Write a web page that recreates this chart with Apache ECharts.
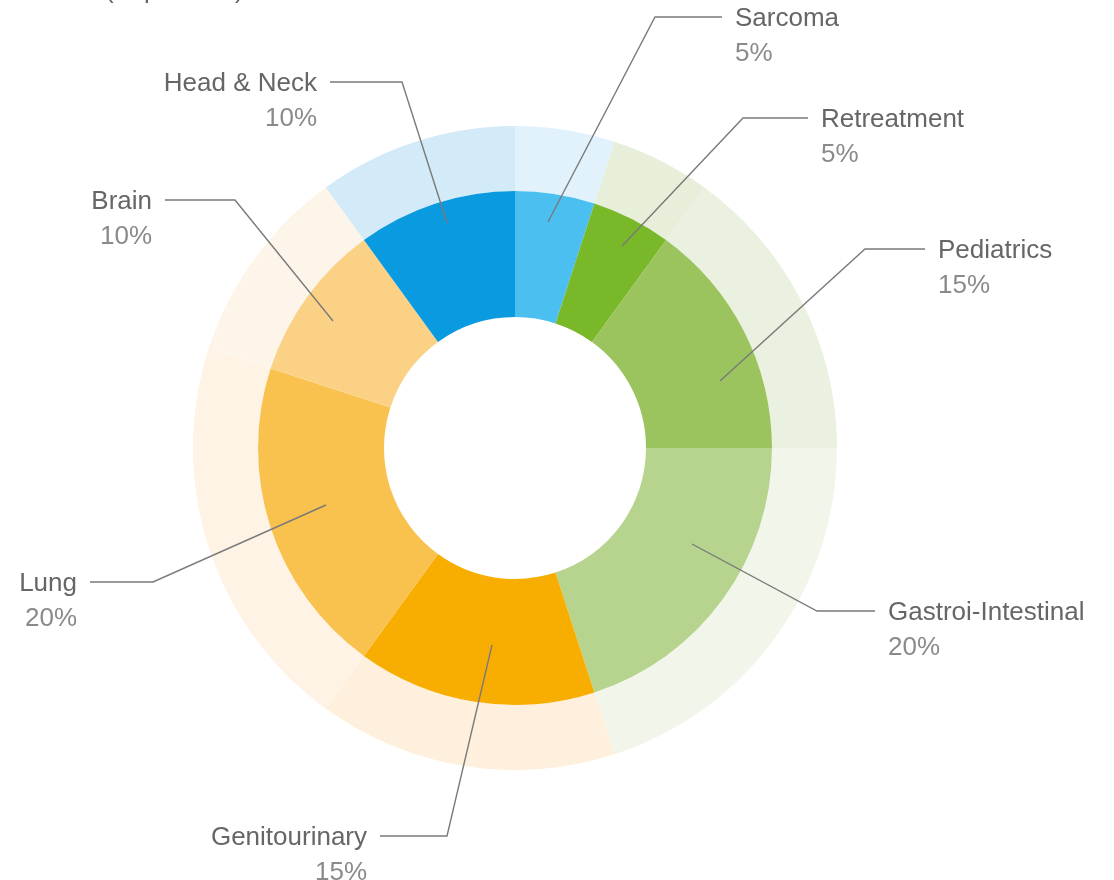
<!DOCTYPE html>
<html><head><meta charset="utf-8">
<script src="https://cdn.jsdelivr.net/npm/echarts@6/dist/echarts.min.js"></script>
<style>html,body{margin:0;padding:0;background:#fff}#c{width:1114px;height:880px}</style>
</head><body><div id="c"></div>
<script>
// ---- data ----
const categories = ['Sarcoma','Retreatment','Pediatrics','Gastroi-Intestinal','Genitourinary','Lung','Brain','Head & Neck'];
const shares = [5, 5, 15, 20, 15, 20, 10, 10];
const unitTitle = '(% patients)';

// ---- styles ----
const innerColors = ['#4BBFF0','#78B829','#9CC45E','#B6D48E','#F8AE00','#F9C24F','#FBD285','#0A9ADF'];
const outerColors = ['#E2F2FC','#E7EFDA','#EAF1E0','#F2F6EA','#FEF0DC','#FEF3E4','#FEF5EA','#D3EAF8'];

// ---- label guide placement (annotation layout, px) ----
const guideStart = [[548,222],[622,246],[720,381],[692,544],[492,645],[326,505],[333,321],[447,223]];
const guideElbow = [[655,17],[743,118],[865,249],[817,611],[447,836],[153,582],[235,200],[402,82]];
const guideEndX  = [722, 808, 925, 875, 380, 90, 165, 330];

const FONT = '"Liberation Sans", Arial, sans-serif';
const chart = echarts.init(document.getElementById('c'), null, {renderer: 'canvas'});

const mk = (colors) => categories.map((c, i) => ({name: c, value: shares[i], itemStyle: {color: colors[i]}}));

const basePie = {
  type: 'pie', silent: true, center: [515, 448],
  startAngle: 90, clockwise: true, avoidLabelOverlap: false,
  itemStyle: {borderWidth: 0}, emphasis: {disabled: true}
};

chart.setOption({
  animation: false,
  backgroundColor: '#fff',
  graphic: [{
    type: 'text', x: 105, y: -9,
    style: {text: unitTitle, font: '26px ' + FONT, fill: '#666', verticalAlign: 'middle', align: 'left'}
  }],
  series: [
    Object.assign({}, basePie, {
      radius: [257, 322], z: 2,
      label: {show: false}, labelLine: {show: false},
      data: mk(outerColors)
    }),
    Object.assign({}, basePie, {
      radius: [131, 257], z: 2,
      label: {show: false}, labelLine: {show: false},
      data: mk(innerColors)
    }),
    Object.assign({}, basePie, {
      radius: [131, 257], z: 10,
      label: {
        show: true, position: 'outside',
        formatter: '{n|{b}}\n{p|{d}%}',
        rich: {
          n: {fontFamily: FONT, fontSize: 26, color: '#666', lineHeight: 35},
          p: {fontFamily: FONT, fontSize: 26, color: '#8a8a8a', lineHeight: 35}
        }
      },
      labelLine: {show: true, smooth: false, lineStyle: {color: '#7a7a7a', width: 1.4}},
      labelLayout: function (p) {
        const i = p.dataIndex;
        const right = guideEndX[i] > guideElbow[i][0];
        return {
          x: guideEndX[i] + (right ? 13 : -13),
          y: guideElbow[i][1] - 16,
          align: right ? 'left' : 'right',
          verticalAlign: 'top',
          labelLinePoints: [guideStart[i], guideElbow[i], [guideEndX[i], guideElbow[i][1]]]
        };
      },
      data: mk(categories.map(() => 'rgba(0,0,0,0)'))
    })
  ]
});
</script>
</body></html>
